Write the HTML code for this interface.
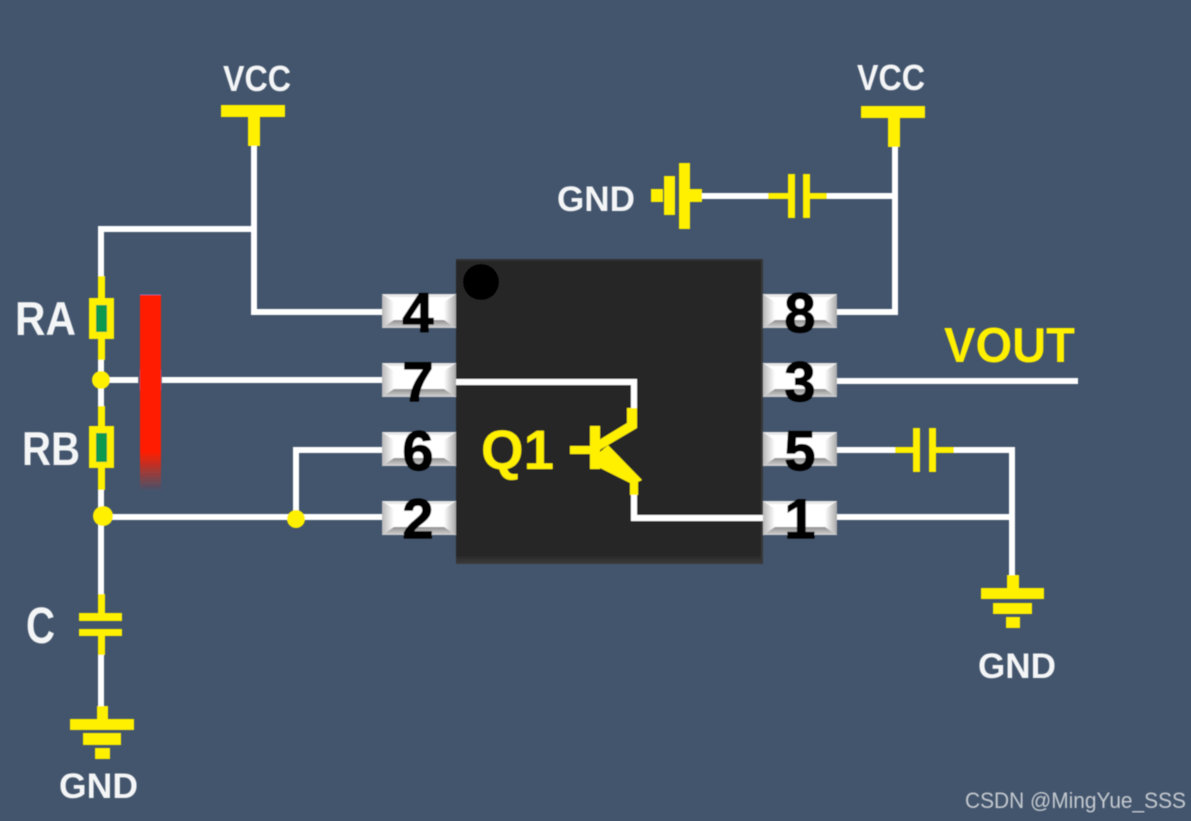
<!DOCTYPE html>
<html>
<head>
<meta charset="utf-8">
<style>
html,body{margin:0;padding:0;background:#43556d;}
svg{display:block;}
text{font-family:"Liberation Sans",sans-serif;font-weight:bold;}
</style>
</head>
<body>
<svg width="1191" height="821" viewBox="0 0 1191 821" xmlns="http://www.w3.org/2000/svg">
<defs>
<filter id="soft" x="0" y="0" width="100%" height="100%" filterUnits="objectBoundingBox">
<feGaussianBlur stdDeviation="0.6"/>
</filter>
<linearGradient id="fade" x1="0" y1="0" x2="0" y2="1">
<stop offset="0" stop-color="#ff1e00"/>
<stop offset="0.8" stop-color="#ff1e00"/>
<stop offset="1" stop-color="#ff1e00" stop-opacity="0"/>
</linearGradient>
<linearGradient id="pb" x1="0" y1="0" x2="0" y2="1">
<stop offset="0" stop-color="#8f8f8f"/>
<stop offset="1" stop-color="#d4d4d4"/>
</linearGradient>
<linearGradient id="pl" x1="0" y1="0" x2="1" y2="0">
<stop offset="0" stop-color="#b8b8b8"/>
<stop offset="1" stop-color="#ffffff"/>
</linearGradient>
<linearGradient id="pr" x1="0" y1="0" x2="1" y2="0">
<stop offset="0" stop-color="#ffffff"/>
<stop offset="1" stop-color="#a8a8a8"/>
</linearGradient>
<linearGradient id="chipb" x1="0" y1="0" x2="0" y2="1">
<stop offset="0" stop-color="#262626"/>
<stop offset="0.97" stop-color="#262626"/>
<stop offset="1" stop-color="#3c3c3c"/>
</linearGradient>
<g id="pin">
<rect x="0" y="0" width="74" height="34" fill="#ffffff"/>
<polygon points="0,0 12,8 12,26 0,34" fill="url(#pl)"/>
<polygon points="74,0 62,8 62,26 74,34" fill="url(#pr)"/>
<polygon points="0,34 12,26 62,26 74,34" fill="url(#pb)"/>
<polygon points="0,0 74,0 68,3 6,3" fill="#e8e8e8"/>
</g>
</defs>

<rect width="1191" height="821" fill="#43556d"/>

<g filter="url(#soft)">
<!-- chip -->
<rect x="456" y="259" width="307" height="305" fill="url(#chipb)"/>
<rect x="456" y="259" width="307" height="2" fill="#333"/>
<rect x="761" y="259" width="2" height="305" fill="#383838"/>
<circle cx="481" cy="282" r="18" fill="#000"/>

<!-- white wires -->
<g fill="none" stroke="#ffffff" stroke-width="6">
<path d="M101 276V229H254"/>
<path d="M254 145V312H382"/>
<path d="M101 380H382"/>
<path d="M101 360V406"/>
<path d="M101 490V595"/>
<path d="M101 517H382"/>
<path d="M296 519V450H382"/>
<path d="M101 655V707"/>
<path d="M895 147V312H837"/>
<path d="M702 196H768"/>
<path d="M827 196H895"/>
<path d="M837 381H1078"/>
<path d="M837 450H896"/>
<path d="M953 450H1012V576"/>
<path d="M837 517H1012"/>
<path d="M456 382H634V410"/>
<path d="M634 493V518H763"/>
</g>

<!-- red bar -->
<rect x="138" y="370" width="24" height="20" fill="#43556d"/>
<rect x="140" y="294" width="21" height="1.5" fill="#2a6fa0"/>
<rect x="140" y="295" width="21" height="196" fill="url(#fade)"/>

<!-- pins -->
<use href="#pin" x="382" y="294"/>
<use href="#pin" x="382" y="363"/>
<use href="#pin" x="382" y="432"/>
<use href="#pin" x="382" y="501"/>
<use href="#pin" x="763" y="294"/>
<use href="#pin" x="763" y="363"/>
<use href="#pin" x="763" y="432"/>
<use href="#pin" x="763" y="501"/>
<g font-size="56" fill="#000" stroke="#000" stroke-width="1.2" text-anchor="middle">
<text x="418" y="332">4</text>
<text x="418" y="401">7</text>
<text x="418" y="470">6</text>
<text x="418" y="538">2</text>
<text x="800" y="332">8</text>
<text x="800" y="401">3</text>
<text x="800" y="470">5</text>
<text x="800" y="538">1</text>
</g>

<!-- yellow parts -->
<g fill="#fff000">
<!-- VCC left -->
<rect x="221" y="105" width="64" height="12"/>
<rect x="248" y="105" width="12" height="41"/>
<!-- VCC right -->
<rect x="861" y="106" width="64" height="12"/>
<rect x="888" y="106" width="12" height="41"/>
<!-- top GND -->
<rect x="651" y="189" width="12" height="13"/>
<rect x="664" y="176" width="11" height="39"/>
<rect x="679" y="163" width="11" height="66"/>
<rect x="690" y="189" width="12" height="13"/>
<!-- top cap -->
<rect x="768" y="193" width="20" height="6"/>
<rect x="788" y="174" width="7" height="44"/>
<rect x="803" y="174" width="7" height="44"/>
<rect x="810" y="193" width="17" height="6"/>
<!-- RA -->
<rect x="98" y="276" width="7" height="84"/>
<rect x="89" y="298" width="25" height="41"/>
<!-- RB -->
<rect x="98" y="406" width="7" height="84"/>
<rect x="89" y="426" width="25" height="42"/>
<!-- nodes -->
<circle cx="101" cy="380" r="9"/>
<circle cx="103" cy="516" r="10"/>
<circle cx="296" cy="519" r="9"/>
<!-- C -->
<rect x="98" y="594" width="7" height="20"/>
<rect x="79" y="613" width="43" height="8"/>
<rect x="79" y="629" width="43" height="7"/>
<rect x="98" y="636" width="7" height="19"/>
<!-- GND bottom-left -->
<rect x="97" y="706" width="11" height="14"/>
<rect x="70" y="719" width="64" height="11"/>
<rect x="83" y="733" width="38" height="12"/>
<rect x="95" y="748" width="15" height="11"/>
<!-- right cap -->
<rect x="895" y="447" width="18" height="6"/>
<rect x="913" y="428" width="7" height="44"/>
<rect x="929" y="428" width="7" height="44"/>
<rect x="936" y="447" width="18" height="6"/>
<!-- GND right -->
<rect x="1007" y="575" width="12" height="14"/>
<rect x="981" y="588" width="63" height="11"/>
<rect x="993" y="603" width="39" height="11"/>
<rect x="1006" y="617" width="14" height="11"/>
<!-- transistor -->
<rect x="570" y="446" width="22" height="8"/>
<rect x="590" y="426" width="10" height="43"/>
<polygon points="627,408 637,408 637,428 598,451 594,443 627,423"/>
<polygon points="608,445 642,480 638,482 638,495 630,495 630,483 600,468 600,452"/>
</g>
<rect x="96" y="305" width="11" height="27" fill="#0f9a50"/>
<rect x="96" y="433" width="11" height="29" fill="#0f9a50"/>

<!-- white labels -->
<g fill="#f4f5f6">
<text x="223" y="91" font-size="36" textLength="68" lengthAdjust="spacingAndGlyphs">VCC</text>
<text x="857" y="90" font-size="36" textLength="68" lengthAdjust="spacingAndGlyphs">VCC</text>
<text x="557" y="211" font-size="35" textLength="78" lengthAdjust="spacingAndGlyphs">GND</text>
<text x="15" y="335" font-size="47" textLength="61" lengthAdjust="spacingAndGlyphs">RA</text>
<text x="22" y="465" font-size="47" textLength="58" lengthAdjust="spacingAndGlyphs">RB</text>
<text x="26" y="643" font-size="51" textLength="29" lengthAdjust="spacingAndGlyphs">C</text>
<text x="59" y="798" font-size="35" textLength="79" lengthAdjust="spacingAndGlyphs">GND</text>
<text x="978" y="678" font-size="35" textLength="78" lengthAdjust="spacingAndGlyphs">GND</text>
</g>

<!-- yellow labels -->
<g fill="#fff000">
<text x="944" y="362" font-size="49" textLength="131" lengthAdjust="spacingAndGlyphs">VOUT</text>
<text x="481" y="469" font-size="56" textLength="73" lengthAdjust="spacingAndGlyphs">Q1</text>
</g>

<!-- watermark -->
<text x="965" y="808" font-size="22" textLength="221" lengthAdjust="spacingAndGlyphs" fill="#c4c9cf" style="font-weight:normal">CSDN @MingYue_SSS</text>
</g>
</svg>
</body>
</html>
